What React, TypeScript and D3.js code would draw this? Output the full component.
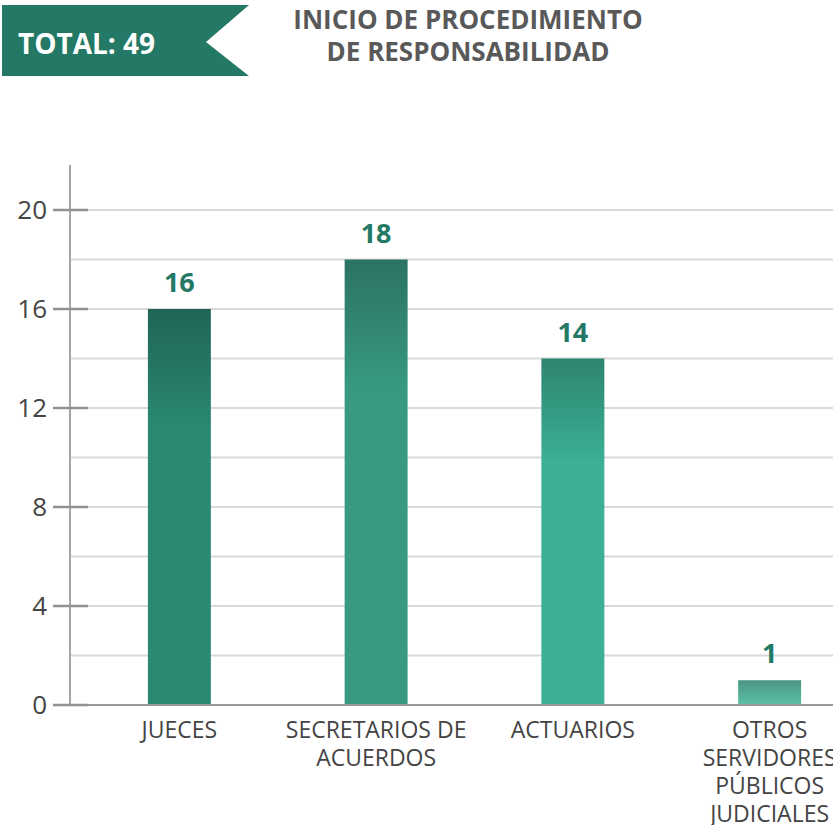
import React from "react";
import * as d3 from "d3";

const categories = ["JUECES", "SECRETARIOS DE ACUERDOS", "ACTUARIOS", "OTROS SERVIDORES PÚBLICOS JUDICIALES"];
const categoryLines = [["JUECES"], ["SECRETARIOS DE", "ACUERDOS"], ["ACTUARIOS"], ["OTROS", "SERVIDORES", "PÚBLICOS", "JUDICIALES"]];
const values = [16, 18, 14, 1];
const barColors = ["#2a8873", "#389a81", "#3bb094", "#5cc1a6"];
const barTopColors = ["#1f6555", "#2b7363", "#2e8471", "#4a9583"];
const yTicks = [0, 4, 8, 12, 16, 20];
const gridValues = [2, 4, 6, 8, 10, 12, 14, 16, 18, 20];
const totalLabel = "TOTAL: 49";
const titleLines = ["INICIO DE PROCEDIMIENTO", "DE RESPONSABILIDAD"];

const W = 833;
const H = 825;
const FONT = "'Open Sans', 'Noto Sans', sans-serif";

export default function App() {
  const y = d3.scaleLinear().domain([0, 20]).range([705, 210]);
  const x = d3
    .scaleBand<string>()
    .domain(categories)
    .range([81, 868])
    .paddingInner(0.68)
    .paddingOuter(0.34);
  const axisX = 70;
  const bw = x.bandwidth();

  return (
    <svg
      width={W}
      height={H}
      style={{ position: "absolute", left: 0, top: 0, background: "#fff" }}
      fontFamily={FONT}
    >
      <defs>
        {values.map((v, i) => (
          <linearGradient key={i} id={`g${i}`} x1="0" y1="0" x2="0" y2="1">
            <stop offset="0" stopColor={barTopColors[i]} />
            <stop offset={i === 3 ? "1" : "0.3"} stopColor={barColors[i]} />
            <stop offset="1" stopColor={barColors[i]} />
          </linearGradient>
        ))}
      </defs>

      {/* Banner */}
      <polygon points="2,5 249,5 206,42 249,76 2,76" fill="#237866" />
      <text x={18} y={54} fill="#fff" fontWeight={700} fontSize={28}>
        {totalLabel}
      </text>
      {titleLines.map((t, i) => (
        <text
          key={i}
          x={468}
          y={29 + i * 32}
          textAnchor="middle"
          fill="#595959"
          fontWeight={700}
          fontSize={26}
        >
          {t}
        </text>
      ))}

      {/* Gridlines */}
      {gridValues.map((g) => (
        <line key={g} x1={axisX} x2={W} y1={y(g)} y2={y(g)} stroke="#d9d9d9" strokeWidth={2} />
      ))}

      {/* Bars */}
      {values.map((v, i) => (
        <rect
          key={i}
          x={x(categories[i])!}
          y={y(v)}
          width={bw}
          height={y(0) - y(v)}
          fill={`url(#g${i})`}
        />
      ))}

      {/* Baseline and axis */}
      <line x1={53} x2={W} y1={y(0)} y2={y(0)} stroke="#9a9a9a" strokeWidth={2} />
      <line x1={axisX} x2={axisX} y1={165} y2={y(0)} stroke="#a3a5a8" strokeWidth={2} />
      {yTicks.map((t) => (
        <g key={t}>
          <line x1={53} x2={88} y1={y(t)} y2={y(t)} stroke="#8f9194" strokeWidth={2.5} />
          <text x={47} y={y(t)} dy="0.36em" textAnchor="end" fill="#444" fontSize={26}>
            {t}
          </text>
        </g>
      ))}

      {/* Value labels */}
      {values.map((v, i) => (
        <text
          key={i}
          x={x(categories[i])! + bw / 2}
          y={y(v) - 17}
          textAnchor="middle"
          fill="#237866"
          fontWeight={700}
          fontSize={27}
        >
          {v}
        </text>
      ))}

      {/* Category labels */}
      {categoryLines.map((lines, i) => (
        <text
          key={i}
          x={x(categories[i])! + bw / 2}
          y={738}
          textAnchor="middle"
          fill="#444"
          fontSize={23}
        >
          {lines.map((l, j) => (
            <tspan key={j} x={x(categories[i])! + bw / 2} dy={j === 0 ? 0 : 28}>
              {l}
            </tspan>
          ))}
        </text>
      ))}
    </svg>
  );
}
